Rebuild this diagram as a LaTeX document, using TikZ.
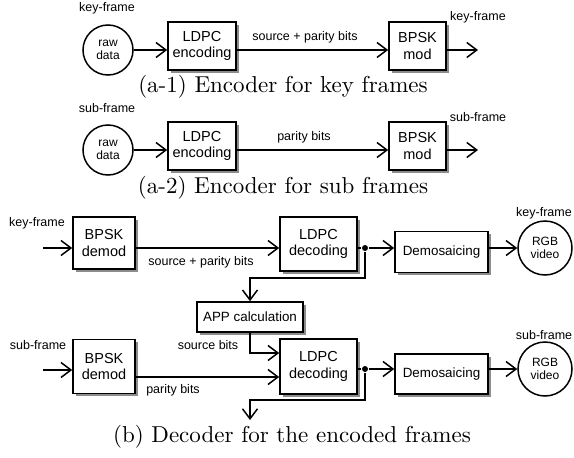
\documentclass[tikz,border=0pt]{standalone}
\usepackage{fontspec}
\newfontfamily\arialfont{Liberation Sans}
\newfontfamily\legfont{lmroman10-regular.otf}
\usetikzlibrary{arrows.meta,shadows}

\begin{document}
\begin{tikzpicture}[
    x=1pt, y=-1pt,
    line width=1.5pt,
    bloc/.style={draw, fill=white, line width=1.6pt, align=center, inner sep=0pt,
        drop shadow={shadow xshift=2.5pt, shadow yshift=-2.5pt, fill=black!45, opacity=1},
        font=\arialfont\fontsize{14.5}{16.5}\selectfont},
    rond/.style={circle, draw, fill=white, align=center, inner sep=0pt,
        font=\arialfont\fontsize{12}{13.5}\selectfont},
    etiq/.style={font=\arialfont\fontsize{12.5}{14}\selectfont, inner sep=0pt},
    legende/.style={font=\legfont\fontsize{23}{27}\selectfont, inner sep=0pt},
    fleche/.style={-{Straight Barb[length=10pt, width=15pt]}},
    point/.style={circle, fill, inner sep=0pt, minimum size=6pt}
]

\useasboundingbox (0,0) rectangle (574,458);

% (a-1) codeur des trames clefs
\node[etiq] (cle1) at (107,8) {key-frame};
\node[rond, minimum size=50pt] (raw1) at (108,50) {raw\\data};
\node[bloc, minimum width=68pt, minimum height=48pt] (enc1) at (202,46) {LDPC\\encoding};
\node[bloc, minimum width=57pt, minimum height=48pt] (mod1) at (417.5,46) {BPSK\\mod};
\coordinate (out1) at (478,50);
\node[etiq] (cleo1) at (478,17) {key-frame};
\node[etiq] (spb1) at (305,37) {source + parity bits};
\node[legende] (leg1) at (283,87) {(a-1) Encoder for key frames};

\draw[fleche] (raw1) -- (raw1 -| enc1.west);
\draw[fleche] (enc1.east |- raw1) -- (mod1.west |- raw1);
\draw[fleche] (mod1.east |- raw1) -- (out1);

% (a-2) codeur des sous-trames
\node[etiq] (sub1) at (107,108) {sub-frame};
\node[rond, minimum size=50pt] (raw2) at (108,150) {raw\\data};
\node[bloc, minimum width=68pt, minimum height=48pt] (enc2) at (202,146) {LDPC\\encoding};
\node[bloc, minimum width=57pt, minimum height=48pt] (mod2) at (417.5,146) {BPSK\\mod};
\coordinate (out2) at (478,150);
\node[etiq] (subo1) at (478,117) {sub-frame};
\node[etiq] (pb1) at (304,137) {parity bits};
\node[legende] (leg2) at (283,188) {(a-2) Encoder for sub frames};

\draw[fleche] (raw2) -- (raw2 -| enc2.west);
\draw[fleche] (enc2.east |- raw2) -- (mod2.west |- raw2);
\draw[fleche] (mod2.east |- raw2) -- (out2);

% (b) decodeur, trame clef
\node[etiq] (cle2) at (37,223) {key-frame};
\coordinate (in1) at (43,248);
\node[bloc, minimum width=62pt, minimum height=52pt] (dem1) at (104,243) {BPSK\\demod};
\node[bloc, minimum width=77pt, minimum height=54pt] (dec1) at (318.5,244) {LDPC\\decoding};
\node[point] (j1) at (365,248) {};
\node[bloc, minimum width=93pt, minimum height=41pt, font=\arialfont\fontsize{13.4}{15}\selectfont] (dms1) at (441.5,252) {Demosaicing};
\node[rond, minimum size=54pt] (rgb1) at (545,248) {RGB\\video};
\node[etiq] (cleo2) at (544,213) {key-frame};
\node[etiq] (spb2) at (201,262) {source + parity bits};

\draw[fleche] (in1) -- (in1 -| dem1.west);
\draw[fleche] (dem1.east |- in1) -- (dec1.west |- in1);
\draw (dec1.east |- j1) -- (j1);
\draw[fleche] (j1) -- (j1 -| dms1.west);
\draw[fleche] (dms1.east |- j1) -- (rgb1.west);

% calcul APP
\node[bloc, minimum width=106pt, minimum height=30pt, font=\arialfont\fontsize{13.4}{15}\selectfont] (app) at (250,317) {APP calculation};
\draw[fleche] (j1) -- ++(0,30) -| (app.north);

% (b) decodeur, sous-trame
\node[etiq] (sub2) at (38,345) {sub-frame};
\coordinate (in2) at (43,370);
\node[bloc, minimum width=62pt, minimum height=54pt] (dem2) at (104,366.5) {BPSK\\demod};
\node[bloc, minimum width=77pt, minimum height=55pt] (dec2) at (318.5,366.5) {LDPC\\decoding};
\node[point] (j2) at (365,369) {};
\node[bloc, minimum width=93pt, minimum height=40pt, font=\arialfont\fontsize{13.4}{15}\selectfont] (dms2) at (441.5,374) {Demosaicing};
\node[rond, minimum size=54pt] (rgb2) at (545,369) {RGB\\video};
\node[etiq] (subo2) at (544,335) {sub-frame};
\node[etiq] (sb) at (208,345) {source bits};
\node[etiq] (pb2) at (173,390) {parity bits};
\coordinate (fin2) at (250,420);

\draw[fleche] (app.south) |- ([yshift=13.5pt]dec2.west);
\draw[fleche] (in2) -- (in2 -| dem2.west);
\draw[fleche] ([yshift=-10.5pt]dem2.east) -- ([yshift=-10.5pt]dec2.west);
\draw (dec2.east |- j2) -- (j2);
\draw[fleche] (j2) -- (j2 -| dms2.west);
\draw[fleche] (dms2.east |- j2) -- (rgb2.west);
\draw[fleche] (j2) -- ++(0,31) -| (fin2);

\node[legende] (leg3) at (292,437) {(b) Decoder for the encoded frames};

\end{tikzpicture}
\end{document}
